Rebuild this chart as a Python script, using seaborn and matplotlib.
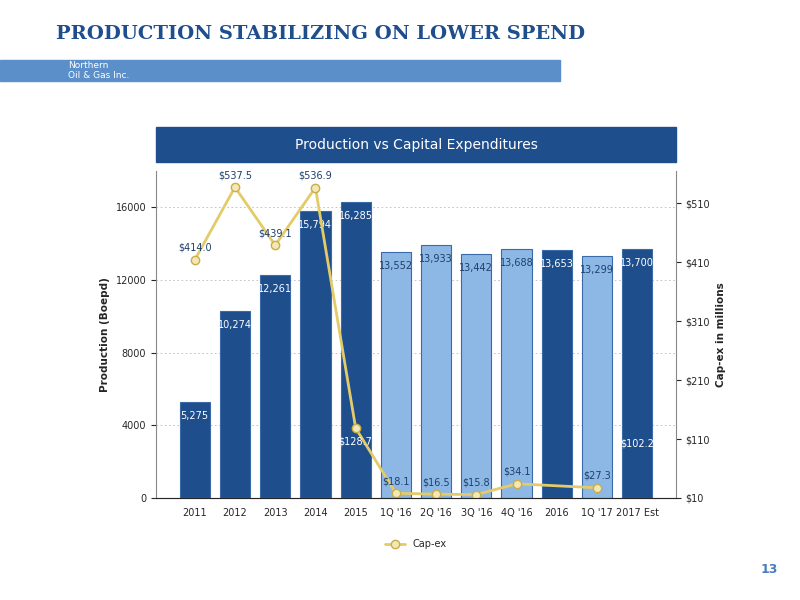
import matplotlib
matplotlib.use("Agg")
import numpy as np
import pandas as pd
import seaborn as sns
import matplotlib.pyplot as plt

categories = ["2011", "2012", "2013", "2014", "2015", "1Q '16", "2Q '16", "3Q '16",
              "4Q '16", "2016", "1Q '17", "2017 Est"]
production = [5275, 10274, 12261, 15794, 16285, 13552, 13933, 13442, 13688, 13653, 13299, 13700]
quarterly = [False, False, False, False, False, True, True, True, True, False, True, False]
capex = [414.0, 537.5, 439.1, 536.9, 128.7, 18.1, 16.5, 15.8, 34.1, None, 27.3, None]
capex_label_only = {11: 102.2}

DARK = "#1F4E8C"
LIGHT = "#8DB8E6"

sns.set_style("white")
fig = plt.figure(figsize=(8, 6), dpi=100)

# header
fig.text(0.07, 0.935, "PRODUCTION STABILIZING ON LOWER SPEND", fontsize=14,
         fontweight="bold", color="#1F4E8C", family="DejaVu Serif")
fig.patches.append(plt.Rectangle((0.0, 0.865), 0.70, 0.035, transform=fig.transFigure,
                                 color="#5B8FC9", zorder=0))
fig.text(0.085, 0.883, "Northern\nOil & Gas Inc.", fontsize=6.5, color="white", va="center")
fig.patches.append(plt.Rectangle((0.195, 0.73), 0.65, 0.058, transform=fig.transFigure,
                                 color=DARK))
fig.text(0.52, 0.758, "Production vs Capital Expenditures", fontsize=10, color="white",
         ha="center", va="center")
fig.text(0.962, 0.045, "13", fontsize=9, color="#4A7EBB", ha="center", fontweight="bold")

ax = fig.add_axes([0.195, 0.17, 0.65, 0.545])
df = pd.DataFrame({"cat": categories, "prod": production})
sns.barplot(data=df, x="cat", y="prod", ax=ax, width=0.75, saturation=1,
            palette=[LIGHT if q else DARK for q in quarterly], hue="cat", legend=False,
            edgecolor="#3A6AA8", linewidth=0.8, zorder=2)
for i, v in enumerate(production):
    ax.text(i, v - 500, f"{v:,}", ha="center", va="top", fontsize=7,
            color="#1F3F6B" if quarterly[i] else "white", zorder=5)
ax.set_ylim(0, 18000)
ax.set_yticks([0, 4000, 8000, 12000, 16000])
ax.yaxis.grid(True, ls=(0, (2, 3)), color="#BBBBBB", lw=0.6)
ax.set_axisbelow(True)
ax.set_xlabel("")
ax.set_ylabel("Production (Boepd)", fontsize=7.5, fontweight="bold")
ax.tick_params(labelsize=7)
for s in ["top", "right"]:
    ax.spines[s].set_visible(False)
ax.spines["left"].set_color("#888888")
ax.spines["bottom"].set_color("#888888")

ax2 = ax.twinx()
xs = [i for i, c in enumerate(capex) if c is not None]
ys = [c for c in capex if c is not None]
ax2.plot(xs, ys, color="#E3CB6A", lw=2, marker="o", ms=6, mfc="#F3E7B5", mec="#C9AE45")
for x, y in zip(xs, ys):
    below = x == 4
    dy = -14 if below else 12
    ax2.text(x, y + dy, f"${y:.1f}", ha="center", va="top" if below else "bottom",
             fontsize=7, color="white" if below else "#1F3F6B")
for x, y in capex_label_only.items():
    ax2.text(x, y, f"${y:.1f}", ha="center", va="center", fontsize=7, color="white")
ax2.set_ylim(10, 565)
ax2.set_yticks([10, 110, 210, 310, 410, 510])
ax2.set_yticklabels([f"${t}" for t in [10, 110, 210, 310, 410, 510]])
ax2.set_ylabel("Cap-ex in millions", fontsize=7.5, fontweight="bold")
ax2.tick_params(labelsize=7)
for s in ["top", "left"]:
    ax2.spines[s].set_visible(False)
ax2.spines["right"].set_color("#888888")
ax2.plot([], [], color="#E3CB6A", lw=2, marker="o", mfc="#F3E7B5", mec="#C9AE45", label="Cap-ex")
ax2.legend(loc="upper center", bbox_to_anchor=(0.5, -0.1), frameon=False, fontsize=7)

fig.savefig("out.png", dpi=100)
